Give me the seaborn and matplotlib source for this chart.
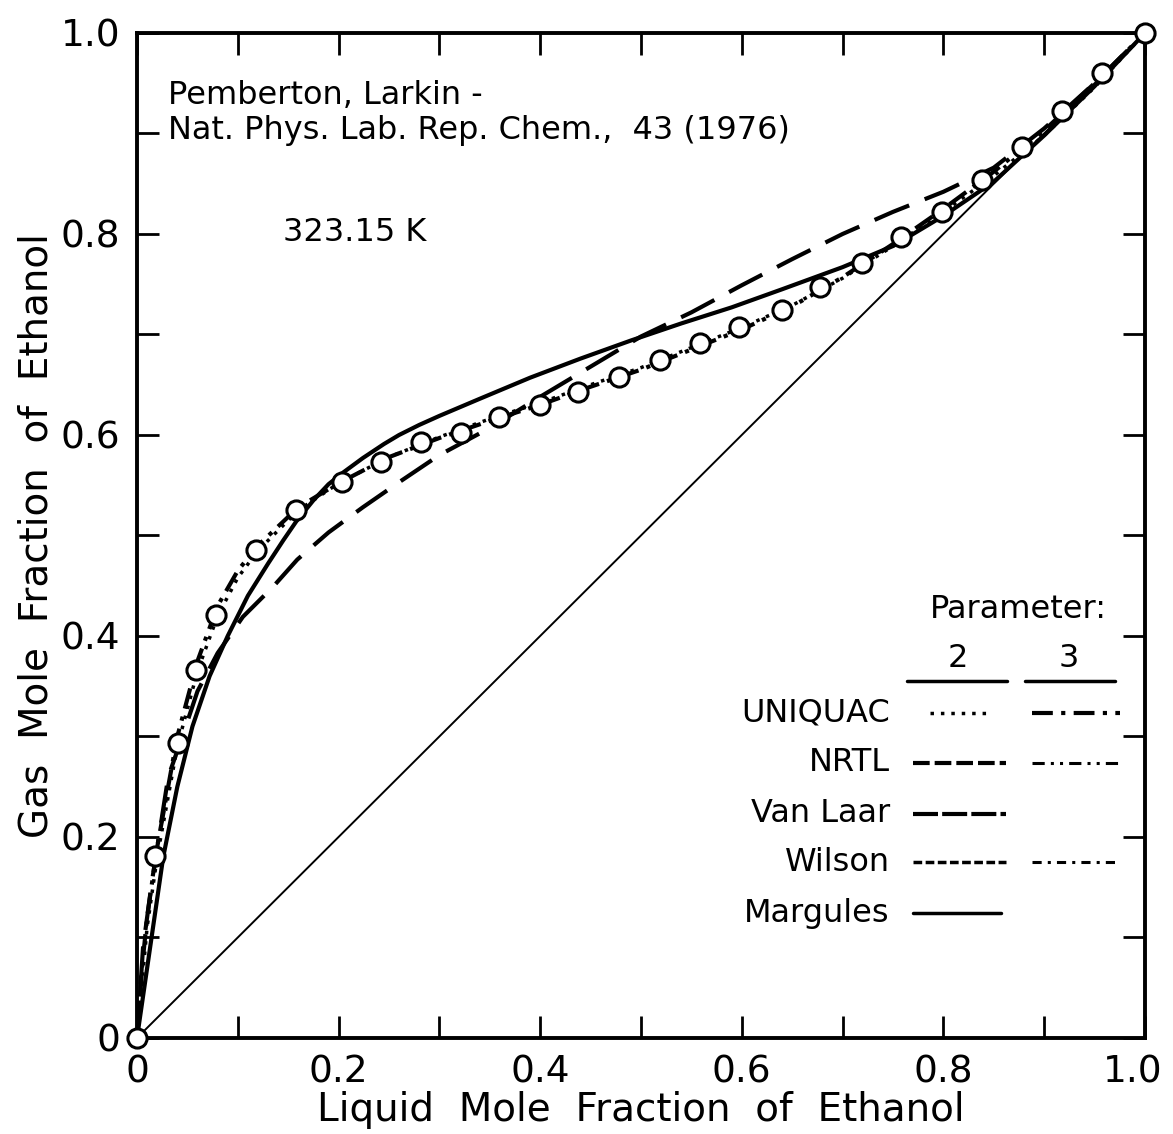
import numpy as np
import pandas as pd
import matplotlib
matplotlib.use("Agg")
import matplotlib.pyplot as plt
import matplotlib.transforms as mtransforms
import seaborn as sns

# ---------------- data ----------------
# experimental points (Pemberton, Larkin, 323.15 K)
exp_x = [0.0, 0.018, 0.041, 0.059, 0.078, 0.118, 0.158, 0.203, 0.242, 0.282,
         0.321, 0.359, 0.400, 0.438, 0.478, 0.519, 0.559, 0.597, 0.640, 0.678,
         0.719, 0.758, 0.799, 0.838, 0.878, 0.918, 0.957, 1.0]
exp_y = [0.0, 0.181, 0.293, 0.366, 0.421, 0.486, 0.525, 0.553, 0.573, 0.593,
         0.602, 0.618, 0.630, 0.643, 0.658, 0.675, 0.692, 0.707, 0.724, 0.747,
         0.771, 0.797, 0.822, 0.854, 0.887, 0.922, 0.960, 1.0]

# 3-parameter fits (UNIQUAC / NRTL / Wilson) - dash-dot, follow the data
fit3_x = [0.0, 0.005, 0.01, 0.02, 0.04, 0.06, 0.08, 0.10, 0.12, 0.16, 0.20,
          0.25, 0.30, 0.35, 0.40, 0.45, 0.50, 0.55, 0.60, 0.65, 0.70, 0.75,
          0.80, 0.85, 0.90, 0.95, 1.0]
fit3_y = [0.0, 0.07, 0.12, 0.19, 0.30, 0.375, 0.43, 0.465, 0.49, 0.528, 0.552,
          0.578, 0.597, 0.614, 0.630, 0.648, 0.665, 0.685, 0.705, 0.728, 0.757,
          0.790, 0.825, 0.862, 0.903, 0.950, 1.0]

# UNIQUAC 2-parameter (dotted)
uniq2_x = [0.0, 0.01, 0.02, 0.04, 0.06, 0.08, 0.10, 0.12, 0.16, 0.20, 0.25,
           0.30, 0.35, 0.40, 0.45, 0.50, 0.55, 0.60, 0.65, 0.70, 0.75, 0.80,
           0.85, 0.90, 0.95, 1.0]
uniq2_y = [0.0, 0.11, 0.18, 0.29, 0.365, 0.42, 0.458, 0.485, 0.525, 0.552,
           0.578, 0.598, 0.616, 0.632, 0.650, 0.667, 0.687, 0.707, 0.729,
           0.756, 0.788, 0.822, 0.858, 0.898, 0.946, 1.0]

# Van Laar / NRTL 2-parameter (long dashes)
vl_x = [0.0, 0.006, 0.015, 0.031, 0.045, 0.06, 0.08, 0.105, 0.135, 0.159,
        0.19, 0.224, 0.26, 0.30, 0.35, 0.40, 0.45, 0.50, 0.55, 0.60, 0.65,
        0.70, 0.75, 0.80, 0.85, 0.90, 0.95, 1.0]
vl_y = [0.0, 0.09, 0.157, 0.26, 0.30, 0.345, 0.383, 0.419, 0.449, 0.476,
        0.503, 0.528, 0.553, 0.58, 0.607, 0.638, 0.668, 0.698, 0.722, 0.749,
        0.775, 0.800, 0.822, 0.842, 0.866, 0.905, 0.95, 1.0]

# Margules (solid)
mg_x = [0.0, 0.013, 0.026, 0.04, 0.055, 0.072, 0.09, 0.11, 0.13, 0.145,
        0.158, 0.175, 0.19, 0.205, 0.224, 0.245, 0.26, 0.28, 0.30, 0.34,
        0.39, 0.44, 0.49, 0.54, 0.59, 0.64, 0.70, 0.75, 0.80, 0.85, 0.90,
        0.95, 1.0]
mg_y = [0.0, 0.09, 0.18, 0.25, 0.31, 0.36, 0.40, 0.44, 0.472, 0.495,
        0.514, 0.535, 0.551, 0.563, 0.577, 0.591, 0.600, 0.610, 0.619, 0.636,
        0.657, 0.676, 0.694, 0.711, 0.727, 0.745, 0.767, 0.788, 0.818, 0.852,
        0.898, 0.947, 1.0]

diag_x = [0.0, 1.0]
diag_y = [0.0, 1.0]

tick_vals = [0.0, 0.2, 0.4, 0.6, 0.8, 1.0]
tick_labels = ["0", "0.2", "0.4", "0.6", "0.8", "1.0"]

legend_rows = ["UNIQUAC", "NRTL", "Van Laar", "Wilson", "Margules"]

# ---------------- plot ----------------
sns.set_style("ticks")
plt.rcParams['font.family'] = ['DejaVu Sans']
plt.rcParams.update({"text.color": "black", "axes.labelcolor": "black",
                     "xtick.color": "black", "ytick.color": "black"})

fig = plt.figure(figsize=(11.73, 11.34), dpi=100)
ax = fig.add_axes([0.1168, 0.0847, 0.8593, 0.8862])

k = dict(ax=ax, color="black", estimator=None, sort=False, legend=False)

sns.lineplot(x=diag_x, y=diag_y, linewidth=1.4, **k)
sns.lineplot(x=mg_x, y=mg_y, linewidth=3.0, **k)
sns.lineplot(x=vl_x, y=vl_y, linewidth=3.0,
             linestyle=(0, (9, 4)), **k)
sns.lineplot(x=uniq2_x, y=uniq2_y, linewidth=2.5,
             linestyle=(0, (1, 2)), **k)
sns.lineplot(x=fit3_x, y=fit3_y, linewidth=3.0,
             linestyle=(0, (5, 2, 1, 2)), **k)

sns.scatterplot(x=exp_x, y=exp_y, ax=ax, s=190, facecolor="white",
                edgecolor="black", linewidth=2.2, zorder=5, legend=False,
                clip_on=False)

all_ticks = np.round(np.arange(0, 1.01, 0.1), 1)
lbls = [tick_labels[tick_vals.index(v)] if v in tick_vals else "" for v in all_ticks]
ax.set_xlim(0, 1)
ax.set_ylim(0, 1)
ax.set_xticks(all_ticks)
ax.set_yticks(all_ticks)
ax.set_xticklabels(lbls)
ax.set_yticklabels(lbls)
ax.tick_params(direction="in", length=16, width=2, top=True, right=True,
               labelsize=27, pad=12, color="black", labelcolor="black")
for s in ax.spines.values():
    s.set_linewidth(2.8)
    s.set_color("black")

# pull the last x tick label ("1.0") slightly left so it stays inside the figure
last = ax.get_xticklabels()[-1]
last.set_transform(last.get_transform() +
                   mtransforms.ScaledTranslation(-12 / 100, 0, fig.dpi_scale_trans))

ax.set_xlabel("Liquid  Mole  Fraction  of  Ethanol", fontsize=28, labelpad=0)
ax.set_ylabel("Gas  Mole  Fraction  of  Ethanol", fontsize=28, labelpad=4)

ax.text(0.031, 0.938, "Pemberton, Larkin -", fontsize=23, va="center", ha="left")
ax.text(0.031, 0.903, "Nat. Phys. Lab. Rep. Chem.,  43 (1976)", fontsize=23,
        va="center", ha="left")
ax.text(0.145, 0.801, "323.15 K", fontsize=23, va="center", ha="left")

# ---- legend block ----
ax.text(0.874, 0.426, "Parameter:", fontsize=23, ha="center", va="center")
ax.text(0.814, 0.378, "2", fontsize=23, ha="center", va="center")
ax.text(0.924, 0.378, "3", fontsize=23, ha="center", va="center")
ax.plot([0.764, 0.863], [0.355, 0.355], color="black", lw=2.5)
ax.plot([0.881, 0.970], [0.355, 0.355], color="black", lw=2.5)

row_y = [0.323, 0.274, 0.223, 0.175, 0.124]
for lab, yy in zip(legend_rows, row_y):
    ax.text(0.747, yy, lab, fontsize=23, ha="right", va="center")

c2 = [0.770, 0.862]
c3 = [0.888, 0.975]
ax.plot([0.787, 0.846], [row_y[0]] * 2, color="black", lw=2.5, linestyle=(0, (1, 2)))
ax.plot(c3, [row_y[0]] * 2, color="black", lw=3.0, linestyle=(0, (5, 2, 1, 2)))
ax.plot(c2, [row_y[1]] * 2, color="black", lw=3.0, linestyle=(0, (4, 1.2)))
ax.plot(c3, [row_y[1]] * 2, color="black", lw=2.2, linestyle=(0, (4, 2, 1, 2, 1, 2)))
ax.plot(c2, [row_y[2]] * 2, color="black", lw=3.0, linestyle=(0, (6, 1)))
ax.plot(c2, [row_y[3]] * 2, color="black", lw=2.5, linestyle=(0, (2.5, 1)))
ax.plot(c3, [row_y[3]] * 2, color="black", lw=2.2, linestyle=(0, (3, 2, 1, 2)))
ax.plot([0.770, 0.857], [row_y[4]] * 2, color="black", lw=2.5)

fig.savefig("out.png", dpi=100, facecolor="white")
